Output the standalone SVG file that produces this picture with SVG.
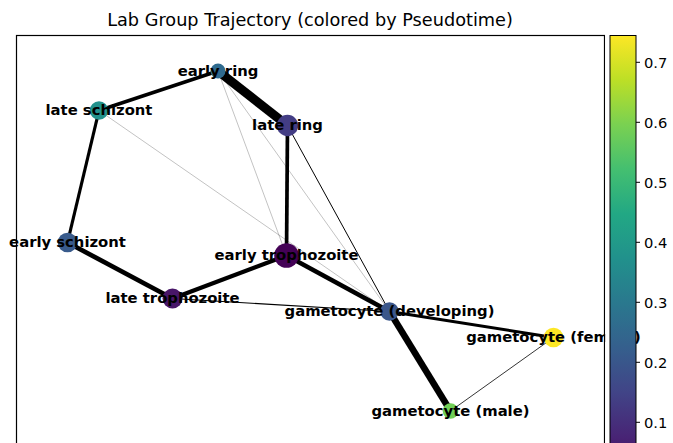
<svg xmlns="http://www.w3.org/2000/svg" width="673" height="443" viewBox="0 0 673 443">
<style>
.lbl{font-family:"DejaVu Sans",sans-serif;font-weight:bold;font-size:14.8px;text-anchor:middle;fill:#000}
.tick{font-family:"DejaVu Sans",sans-serif;font-size:14.7px;fill:#000}
.title{font-family:"DejaVu Sans",sans-serif;font-size:17.7px;text-anchor:middle;fill:#000}
.e{stroke:#000;stroke-linecap:butt;fill:none}
.faint{stroke:#000;stroke-opacity:0.3;stroke-width:0.8}
</style>
<defs>
<linearGradient id="viridis" x1="0" y1="482" x2="0" y2="35" gradientUnits="userSpaceOnUse">
<stop offset="0" stop-color="#440154"/>
<stop offset="0.1" stop-color="#482475"/>
<stop offset="0.2" stop-color="#414487"/>
<stop offset="0.3" stop-color="#355f8d"/>
<stop offset="0.4" stop-color="#2a788e"/>
<stop offset="0.5" stop-color="#21918c"/>
<stop offset="0.6" stop-color="#22a884"/>
<stop offset="0.7" stop-color="#44bf70"/>
<stop offset="0.8" stop-color="#7ad151"/>
<stop offset="0.9" stop-color="#bddf26"/>
<stop offset="1" stop-color="#fde725"/>
</linearGradient>
</defs>
<rect width="673" height="443" fill="#fff"/>
<text class="title" x="310" y="26">Lab Group Trajectory (colored by Pseudotime)</text>
<rect x="16.5" y="35.5" width="588" height="460" fill="none" stroke="#000" stroke-width="1.2"/>
<g id="connectors">
<line class="e faint" x1="218" y1="71" x2="286.5" y2="255.5"/>
<line class="e faint" x1="218" y1="71" x2="389.5" y2="311.5"/>
<line class="e faint" x1="99" y1="110.5" x2="389.5" y2="311.5"/>
<line class="e" stroke-width="1" x1="287.5" y1="125.5" x2="389.5" y2="311.5"/>
<line class="e" stroke-width="1.1" x1="172.5" y1="298.5" x2="389.5" y2="311.5"/>
<line class="e" stroke-width="0.8" stroke="#444" x1="450.5" y1="411" x2="553.5" y2="337.5"/>
<line class="e" stroke-width="9" x1="218" y1="71" x2="287.5" y2="125.5"/>
<line class="e" stroke-width="3.5" x1="218" y1="71" x2="99" y2="110.5"/>
<line class="e" stroke-width="3.2" x1="99" y1="110.5" x2="67.5" y2="242.5"/>
<line class="e" stroke-width="4.7" x1="67.5" y1="242.5" x2="172.5" y2="298.5"/>
<line class="e" stroke-width="4.2" x1="172.5" y1="298.5" x2="286.5" y2="255.5"/>
<line class="e" stroke-width="3.7" x1="287.5" y1="125.5" x2="286.5" y2="255.5"/>
<line class="e" stroke-width="4.5" x1="286.5" y1="255.5" x2="389.5" y2="311.5"/>
<line class="e" stroke-width="6.5" x1="389.5" y1="311.5" x2="450.5" y2="411"/>
<line class="e" stroke-width="3" x1="389.5" y1="311.5" x2="553.5" y2="337.5"/>
</g>
<g id="early-ring"><circle cx="218" cy="71" r="7.5" fill="#2f6a8e"/></g>
<g id="late-schizont"><circle cx="99" cy="110.5" r="9.3" fill="#21918c"/></g>
<g id="late-ring"><circle cx="287.5" cy="125.5" r="10.7" fill="#433d84"/></g>
<g id="early-schizont"><circle cx="67.5" cy="242.5" r="9.8" fill="#395b8c"/></g>
<g id="early-trophozoite"><circle cx="286.5" cy="255.5" r="12.3" fill="#440256"/></g>
<g id="late-trophozoite"><circle cx="172.5" cy="298.5" r="10" fill="#481668"/></g>
<g id="gametocyte-developing"><circle cx="389.5" cy="311.5" r="9.3" fill="#3b578b"/></g>
<g id="gametocyte-female"><circle cx="553.5" cy="337.5" r="9.8" fill="#fde725"/></g>
<g id="gametocyte-male"><circle cx="450.5" cy="411" r="7.8" fill="#70cf57"/></g>
<g id="labels">
<text class="lbl" x="218" y="75.5">early ring</text>
<text class="lbl" x="99" y="115">late schizont</text>
<text class="lbl" x="287.5" y="130">late ring</text>
<text class="lbl" x="67.5" y="247">early schizont</text>
<text class="lbl" x="286.5" y="260">early trophozoite</text>
<text class="lbl" x="172.5" y="303">late trophozoite</text>
<text class="lbl" x="389.5" y="316">gametocyte (developing)</text>
<text class="lbl" x="553.5" y="342">gametocyte (female)</text>
<text class="lbl" x="450.5" y="415.5">gametocyte (male)</text>
</g>
<g id="colorbar">
<rect x="605.2" y="35" width="30.8" height="410" fill="#fff"/>
<rect x="610" y="35.5" width="26" height="460" fill="url(#viridis)" stroke="#000" stroke-width="1"/>
<g stroke="#000" stroke-width="1">
<line x1="636" y1="62.3" x2="640" y2="62.3"/>
<line x1="636" y1="122.3" x2="640" y2="122.3"/>
<line x1="636" y1="182.3" x2="640" y2="182.3"/>
<line x1="636" y1="242.3" x2="640" y2="242.3"/>
<line x1="636" y1="302.3" x2="640" y2="302.3"/>
<line x1="636" y1="362.3" x2="640" y2="362.3"/>
<line x1="636" y1="422.3" x2="640" y2="422.3"/>
</g>
<text class="tick" x="644" y="67.8">0.7</text>
<text class="tick" x="644" y="127.8">0.6</text>
<text class="tick" x="644" y="187.8">0.5</text>
<text class="tick" x="644" y="247.8">0.4</text>
<text class="tick" x="644" y="307.8">0.3</text>
<text class="tick" x="644" y="367.8">0.2</text>
<text class="tick" x="644" y="427.8">0.1</text>
</g>
</svg>
